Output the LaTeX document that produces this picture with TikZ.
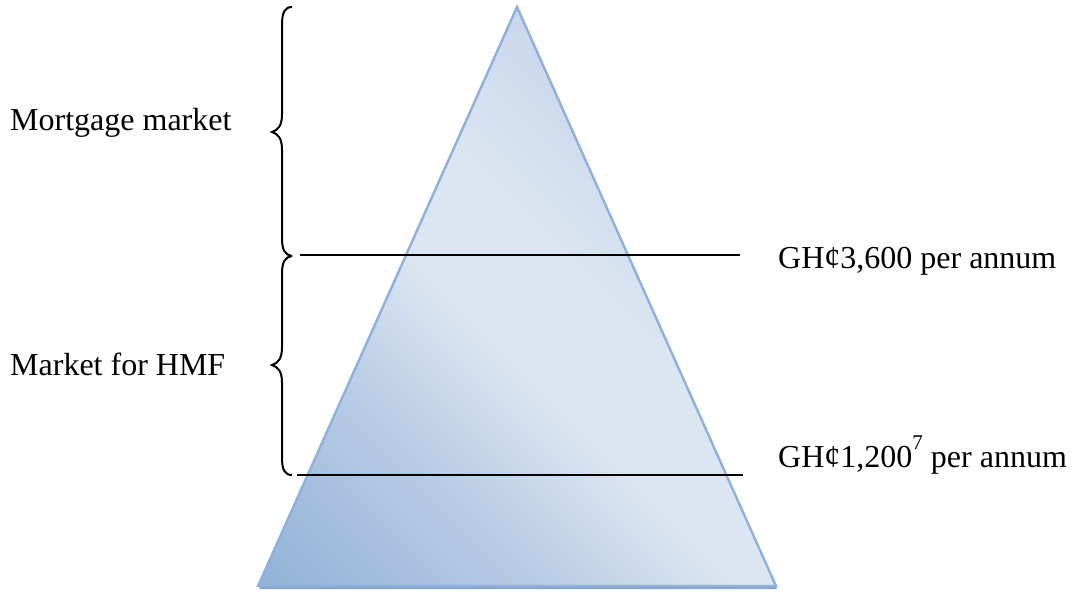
\documentclass[tikz,border=0pt]{standalone}
\usepackage{fontspec}
\setmainfont{Liberation Serif}
\usetikzlibrary{calc}
\definecolor{sA}{HTML}{8EAED4}
\definecolor{sB}{HTML}{94B2D6}
\definecolor{sC}{HTML}{B6CAE4}
\definecolor{sD}{HTML}{DCE6F2}
\definecolor{sE}{HTML}{C6D6EA}
\definecolor{sF}{HTML}{BACDE6}
\definecolor{triborder}{HTML}{8EB0DA}
\definecolor{trishadow}{HTML}{8AA5CA}
\pgfdeclareverticalshading{trishade}{100bp}{color(0bp)=(sA); color(15bp)=(sB); color(32bp)=(sC); color(46bp)=(sD); color(55bp)=(sD); color(70bp)=(sE); color(100bp)=(sF)}
\tikzset{
  lbl/.style={anchor=base west, inner sep=0pt, font=\fontsize{32}{38}\selectfont},
  level/.style={line width=2pt, black},
  brace/.style={line width=2pt, black},
}
\begin{document}
\begin{tikzpicture}[x=1pt,y=-1pt]
\useasboundingbox (0,0) rectangle (1075,591);
% triangle
\coordinate (apex) at (517,7);
\coordinate (bl) at (258,586);
\coordinate (br) at (776,586);
\fill[trishadow] ($(apex)+(1,3)$) -- ($(br)+(1,3)$) -- ($(bl)+(1,3)$) -- cycle;
\shade[shading=trishade, shading angle=-45] (apex) -- (br) -- (bl) -- cycle;
\draw[triborder, line width=2.4pt, line join=miter] (apex) -- (br) -- (bl) -- cycle;
% level lines
\coordinate (u1) at (300,255);
\coordinate (u2) at (740,255);
\coordinate (l1) at (297,475);
\coordinate (l2) at (743,475);
\draw[level] (u1) -- (u2);
\draw[level] (l1) -- (l2);
% braces
\draw[brace] (292,7) .. controls (285,7) and (282,12) .. (282,25) -- (282,114) .. controls (282,126) and (278,130) .. (272,132) .. controls (278,134) and (282,138) .. (282,150) -- (282,238) .. controls (282,250) and (285,255) .. (292,256);
\draw[brace] (292,256) .. controls (285,257) and (282,262) .. (282,274) -- (282,347) .. controls (282,359) and (278,363) .. (272,365) .. controls (278,367) and (282,371) .. (282,383) -- (282,458) .. controls (282,470) and (285,475) .. (292,475);
% labels
\node[lbl] (mm) at (10,131) {Mortgage market};
\node[lbl] (hmf) at (10,375) {Market for HMF};
\node[lbl] (p1) at (778,268) {GH¢3,600 per annum};
\node[lbl] (p2) at (778,467) {GH¢1,200\raisebox{0.55em}{\fontsize{21}{24}\selectfont 7} per annum};
\end{tikzpicture}
\end{document}
